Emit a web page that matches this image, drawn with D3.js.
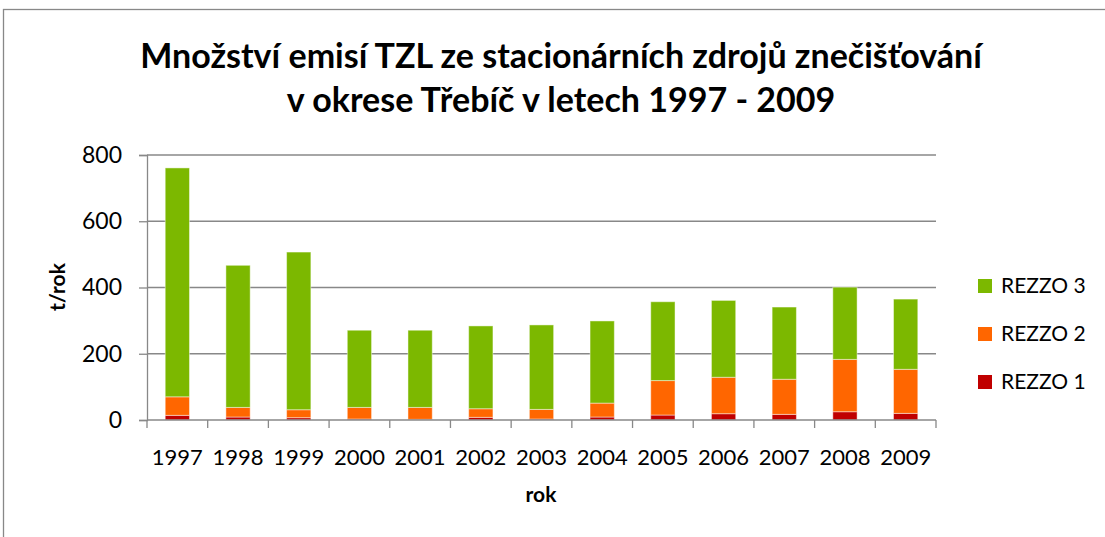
<!DOCTYPE html>
<html>
<head>
<meta charset="utf-8">
<script src="https://cdn.jsdelivr.net/npm/d3@7"></script>
<style>
  body { margin: 0; background: #fff; }
  svg text { font-family: Lato, "Open Sans", sans-serif; fill: #000; }
</style>
</head>
<body>
<div id="chart"></div>
<script>
// data (t/rok)
var years = ["1997", "1998", "1999", "2000", "2001", "2002", "2003", "2004", "2005", "2006", "2007", "2008", "2009"];
var rezzo1 = [14, 9, 7, 3, 2, 8, 3, 9, 15, 19, 17, 25, 20];
var rezzo2 = [56, 29, 24, 35, 36, 26, 29, 42, 104, 110, 106, 158, 133];
var rezzo3 = [691, 429, 476, 233, 233, 250, 255, 248, 238, 232, 218, 218, 212];
var yTicks = [0, 200, 400, 600, 800];
var seriesNames = ["REZZO 1", "REZZO 2", "REZZO 3"];
var seriesColors = ["#c00000", "#ff6600", "#7cb800"];

(function() {
  var W = 1105, H = 537;
  var pLeft = 147, pRight = 936, pTop = 155, pBottom = 420;
  var grid = "#888888";

  var svg = d3.select("#chart").append("svg").attr("width", W).attr("height", H);

  // chart frame (runs off the right and bottom edge)
  svg.append("rect").attr("x", 3.5).attr("y", 9.5).attr("width", 1120).attr("height", 560)
    .style("fill", "none").style("stroke", grid).style("stroke-width", 1.3);

  var rows = years.map(function(yr, i) {
    return { year: yr, "REZZO 1": rezzo1[i], "REZZO 2": rezzo2[i], "REZZO 3": rezzo3[i] };
  });

  var x = d3.scaleBand().domain(years).range([pLeft, pRight]).paddingInner(0.6).paddingOuter(0.3);
  var xb = d3.scaleBand().domain(years).range([pLeft, pRight]);
  var y = d3.scaleLinear().domain([0, 800]).range([pBottom, pTop]);

  // gridlines
  svg.append("g").selectAll("line").data(yTicks.slice(1)).enter().append("line")
    .attr("x1", pLeft).attr("x2", pRight)
    .attr("y1", function(d) { return y(d); }).attr("y2", function(d) { return y(d); })
    .style("stroke", grid).style("stroke-width", 1.3);

  // y axis
  var yAxis = d3.axisLeft(y).tickValues(yTicks).tickSize(8).tickPadding(17);
  var gy = svg.append("g").attr("transform", "translate(" + pLeft + ",0)").call(yAxis);
  gy.select(".domain").style("stroke", grid).style("stroke-width", 1.3);
  gy.selectAll(".tick line").style("stroke", grid).style("stroke-width", 1.3);
  gy.selectAll(".tick text").style("font-size", "23px").style("font-family", "Lato").style("fill", "#000");

  // bars
  var stack = d3.stack().keys(seriesNames)(rows);
  svg.append("g").selectAll("g").data(stack).enter().append("g")
    .style("fill", function(d, i) { return seriesColors[i]; })
    .selectAll("rect").data(function(d) { return d; }).enter().append("rect")
    .attr("x", function(d) { return x(d.data.year); })
    .attr("width", x.bandwidth())
    .attr("y", function(d) { return y(d[1]); })
    .attr("height", function(d) { return y(d[0]) - y(d[1]); })
    .style("stroke", "rgba(255,255,255,0.45)").style("stroke-width", 1);

  // x axis
  svg.append("line").attr("x1", pLeft).attr("x2", pRight).attr("y1", pBottom).attr("y2", pBottom)
    .style("stroke", grid).style("stroke-width", 1.3);
  var bounds = years.map(function(d) { return xb(d); }).concat([pRight]);
  svg.append("g").selectAll("line").data(bounds).enter().append("line")
    .attr("x1", function(d) { return d; }).attr("x2", function(d) { return d; })
    .attr("y1", pBottom).attr("y2", pBottom + 8)
    .style("stroke", grid).style("stroke-width", 1.3);
  svg.append("g").selectAll("text").data(years).enter().append("text")
    .attr("x", function(d) { return x(d) + x.bandwidth() / 2; })
    .attr("y", 465).attr("text-anchor", "middle")
    .style("font-size", "22px")
    .text(function(d) { return d; });

  // titles
  var title = svg.append("text").attr("text-anchor", "middle").style("font-size", "34px").style("font-weight", "bold");
  title.append("tspan").attr("x", 561).attr("y", 68).text("Množství emisí TZL ze stacionárních zdrojů znečišťování");
  title.append("tspan").attr("x", 561).attr("y", 112).text("v okrese Třebíč v letech 1997 - 2009");

  svg.append("text").attr("x", 541).attr("y", 502).attr("text-anchor", "middle")
    .style("font-size", "21px").style("font-weight", "bold").text("rok");
  svg.append("text").attr("transform", "translate(65,287) rotate(-90)").attr("text-anchor", "middle")
    .style("font-size", "21px").style("font-weight", "bold").text("t/rok");

  // legend, top entry is REZZO 3
  var legend = svg.append("g").selectAll("g").data(seriesNames.slice().reverse()).enter().append("g")
    .attr("transform", function(d, i) { return "translate(978," + (279 + i * 48) + ")"; });
  legend.append("rect").attr("width", 14).attr("height", 14)
    .style("fill", function(d, i) { return seriesColors[2 - i]; });
  legend.append("text").attr("x", 23).attr("y", 14).style("font-size", "21px")
    .text(function(d) { return d; });
})();
</script>
</body>
</html>
